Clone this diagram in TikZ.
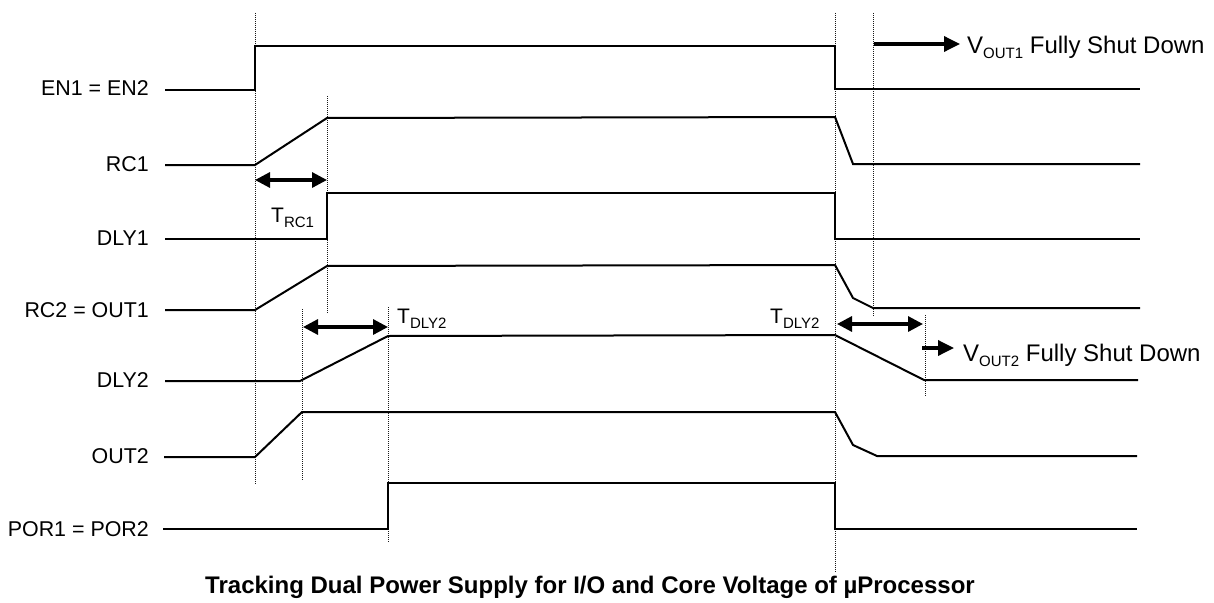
\documentclass[tikz,border=0pt]{standalone}
\usepackage{fontspec}
\setmainfont{Liberation Sans}
\usetikzlibrary{arrows.meta}
\newcommand{\lowsub}[1]{\raisebox{-5.5pt}{\fontsize{15}{15}\selectfont #1}}

\begin{document}
\begin{tikzpicture}[x=1pt,y=-1pt,
    signal/.style={line width=2pt},
    guide/.style={line width=1pt, dash pattern=on 1pt off 1pt, black!90},
    span/.style={line width=3.2pt, {Triangle[length=15pt,width=15pt]}-{Triangle[length=15pt,width=15pt]}},
    pointer/.style={line width=3.4pt, -{Triangle[length=16pt,width=15pt]}},
    signame/.style={anchor=east, inner sep=0pt, font=\fontsize{21.4}{24}\selectfont},
    tmark/.style={anchor=base west, inner sep=0pt, font=\fontsize{21}{24}\selectfont},
    note/.style={anchor=base west, inner sep=0pt, font=\fontsize{24}{28}\selectfont}]
    \useasboundingbox (0,0) rectangle (1214,602);

    % guide lines
    \draw[guide] (255,13) -- (255,484);
    \draw[guide] (327,96) -- (327,313);
    \draw[guide] (302,309) -- (302,480);
    \draw[guide] (388,307) -- (388,542);
    \draw[guide] (835,13) -- (835,573);
    \draw[guide] (873,13) -- (873,317);
    \draw[guide] (925,315) -- (925,397);

    % signal names
    \node[signame] (en)   at (149,88)  {EN1 = EN2};
    \node[signame] (rc1)  at (149,164) {RC1};
    \node[signame] (dly1) at (149,238) {DLY1};
    \node[signame] (rc2)  at (149,310) {RC2 = OUT1};
    \node[signame] (dly2) at (149,380) {DLY2};
    \node[signame] (out2) at (149,456) {OUT2};
    \node[signame] (por)  at (149,529) {POR1 = POR2};

    % waveforms
    \draw[signal] (165,90) -- (255,90) -- (255,46) -- (835,46) -- (835,89) -- (1140,89);
    \draw[signal] (165,165) -- (255,165) -- (327,118) -- (835,117) -- (853,164) -- (1140,164);
    \draw[signal] (165,239) -- (327,239) -- (327,193) -- (835,193) -- (835,239) -- (1140,239);
    \draw[signal] (165,310) -- (255,310) -- (327,266) -- (835,265) -- (853,298) -- (873,308) -- (1140,308);
    \draw[signal] (165,381) -- (300,381) -- (388,336) -- (835,335) -- (924,380) -- (1138,380);
    \draw[signal] (164,457) -- (255,457) -- (302,412) -- (835,412) -- (853,445) -- (877,456) -- (1137,456);
    \draw[signal] (163,529) -- (388,529) -- (388,483) -- (835,483) -- (835,529) -- (1137,529);

    % delays
    \coordinate (trc1a) at (255,180);
    \coordinate (trc1b) at (327,180);
    \coordinate (tona)  at (303,327);
    \coordinate (tonb)  at (388,327);
    \coordinate (toffa) at (837,324);
    \coordinate (toffb) at (923,324);
    \draw[span] (trc1a) -- (trc1b);
    \draw[span] (tona) -- (tonb);
    \draw[span] (toffa) -- (toffb);
    \node[tmark] (trc1)  at (271,222) {T\lowsub{RC1}};
    \node[tmark] (tdon)  at (397,323) {T\lowsub{DLY2}};
    \node[tmark] (tdoff) at (770,323) {T\lowsub{DLY2}};

    % shut down notes
    \node[note] (vout1) at (967,53)  {V\lowsub{OUT1} Fully Shut Down};
    \node[note] (vout2) at (963,361) {V\lowsub{OUT2} Fully Shut Down};
    \coordinate (v1s) at (874,44);
    \coordinate (v2s) at (922,348);
    \draw[pointer, shorten >=7pt] (v1s) -- (v1s -| vout1.west);
    \draw[pointer, shorten >=9pt] (v2s) -- (v2s -| vout2.west);

    \node[font=\fontsize{24}{28}\selectfont\bfseries] (caption) at (590,587.5)
        {Tracking Dual Power Supply for I/O and Core Voltage of µProcessor};
\end{tikzpicture}
\end{document}
